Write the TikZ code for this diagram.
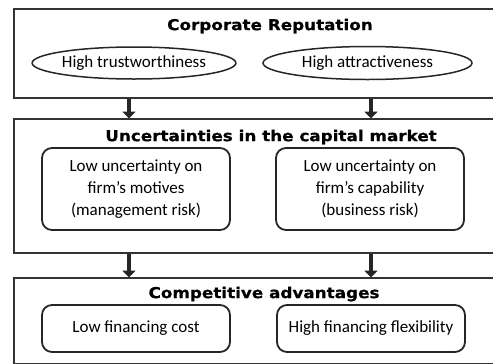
\documentclass[tikz,border=0pt]{standalone}
\usepackage{fontspec}
\setmainfont{Carlito}
\newfontfamily\headfont{DejaVu Sans}[FakeStretch=1.12, FakeBold=0.6]
\usetikzlibrary{arrows.meta,shapes.geometric}

\tikzset{
  panel/.style={draw=black!80, line width=1.8bp, anchor=north west, inner sep=0pt},
  heading/.style={font=\headfont\bfseries\fontsize{15bp}{17bp}\selectfont, inner sep=0pt},
  oval/.style={ellipse, draw=black!85, line width=1.5bp, inner sep=0pt,
    font=\fontsize{17bp}{20bp}\selectfont},
  factor/.style={draw=black!85, line width=1.8bp, rounded corners=10bp, inner sep=0pt,
    align=center, font=\fontsize{17bp}{21.7bp}\selectfont,
    minimum width=188bp},
  flow/.style={draw=black!85, line width=4.5bp,
    -{Triangle[width=13bp,length=7bp]}, shorten >=-0.5bp},
}

\begin{document}
\begin{tikzpicture}[x=1bp,y=-1bp]
\useasboundingbox (0,0) rectangle (493,363);
\clip (0,0) rectangle (493,363);

% three stacked panels (they run past the right and bottom edges)
\node[panel, minimum width=490bp, minimum height=89bp] (rep) at (13,8) {};
\node[panel, minimum width=490bp, minimum height=134bp] (unc) at (13,118) {};
\node[panel, minimum width=490bp, minimum height=86bp] (adv) at (13,277) {};

% panel headings
\node[heading] (repT) at (270,26) {Corporate Reputation};
\node[heading] (uncT) at (271,137) {Uncertainties in the capital market};
\node[heading] (advT) at (264,294) {Competitive advantages};

% reputation dimensions
\node[oval, minimum width=198bp, minimum height=32bp] (trust) at (134,63) {High trustworthiness};
\node[oval, minimum width=209bp, minimum height=33bp] (attr) at (367.5,63) {High attractiveness};

% uncertainty reduction
\node[factor, minimum height=82bp] (motive) at (136,189)
  {Low uncertainty on\\firm’s motives\\(management risk)};
\node[factor, minimum height=82bp] (capab) at (370,189)
  {Low uncertainty on\\firm’s capability\\(business risk)};

% resulting advantages
\node[factor, minimum height=47bp] (cost) at (136,328.5) {Low financing cost};
\node[factor, minimum height=47bp] (flex) at (371,328.5) {High financing flexibility};

% arrows between panels
\coordinate (lane1) at (129,0);
\coordinate (lane2) at (371,0);
\draw[flow] (rep.south -| lane1) -- (unc.north -| lane1);
\draw[flow] (rep.south -| lane2) -- (unc.north -| lane2);
\draw[flow] (unc.south -| lane1) -- (adv.north -| lane1);
\draw[flow] (unc.south -| lane2) -- (adv.north -| lane2);
\end{tikzpicture}
\end{document}
